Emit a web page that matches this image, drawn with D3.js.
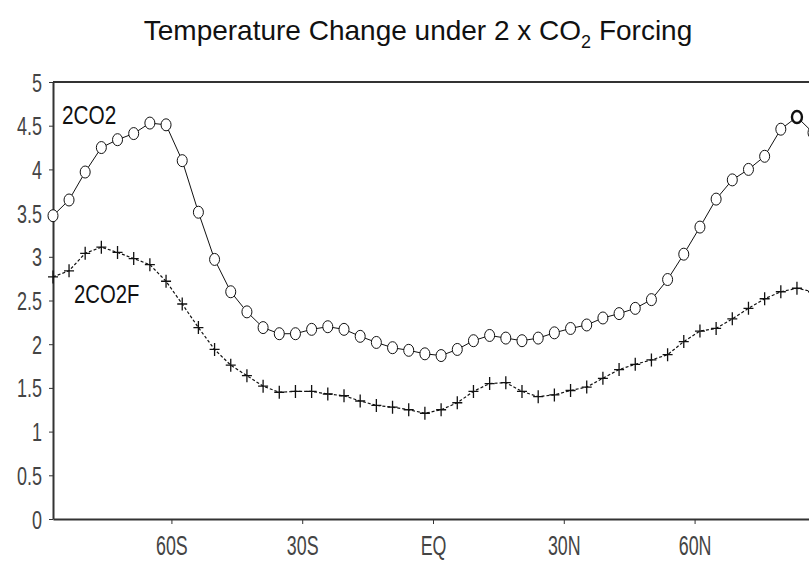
<!DOCTYPE html>
<html>
<head>
<meta charset="utf-8">
<script src="https://cdn.jsdelivr.net/npm/d3@7"></script>
<style>
  body { margin: 0; background: #fff; }
  svg { display: block; overflow: hidden; }
</style>
</head>
<body>
<svg id="chart"></svg>
<script>
// Gaussian latitudes of the model grid (deg)
const latitudes = [-87.16, -83.48, -79.78, -76.07, -72.36, -68.65, -64.94, -61.23,
  -57.52, -53.81, -50.10, -46.39, -42.68, -38.97, -35.26, -31.55,
  -27.84, -24.13, -20.41, -16.70, -12.99, -9.28, -5.57, -1.86,
  1.86, 5.57, 9.28, 12.99, 16.70, 20.41, 24.13, 27.84,
  31.55, 35.26, 38.97, 42.68, 46.39, 50.10, 53.81, 57.52,
  61.23, 64.94, 68.65, 72.36, 76.07, 79.78, 83.48, 87.16];

// 2CO2 run (circles)
const co2 = [3.47, 3.65, 3.97, 4.25, 4.34, 4.41, 4.53, 4.51,
  4.10, 3.51, 2.97, 2.60, 2.37, 2.19, 2.12, 2.12,
  2.17, 2.20, 2.17, 2.09, 2.02, 1.96, 1.93, 1.89,
  1.87, 1.94, 2.04, 2.10, 2.07, 2.04, 2.07, 2.13,
  2.18, 2.22, 2.30, 2.35, 2.41, 2.51, 2.74, 3.03,
  3.34, 3.66, 3.88, 4.00, 4.15, 4.46, 4.60, 4.42];

// 2CO2F run (crosses)
const co2f = [2.77, 2.84, 3.04, 3.11, 3.05, 2.98, 2.91, 2.72,
  2.46, 2.19, 1.94, 1.76, 1.64, 1.52, 1.45, 1.46,
  1.46, 1.43, 1.41, 1.35, 1.30, 1.28, 1.25, 1.21,
  1.25, 1.33, 1.46, 1.55, 1.56, 1.46, 1.40, 1.42,
  1.47, 1.51, 1.61, 1.71, 1.77, 1.82, 1.88, 2.03,
  2.15, 2.18, 2.29, 2.41, 2.52, 2.60, 2.64, 2.60];

const xTickValues = [-60, -30, 0, 30, 60];
const xTickLabels = ['60S', '30S', 'EQ', '30N', '60N'];
const yTickValues = [0, 0.5, 1, 1.5, 2, 2.5, 3, 3.5, 4, 4.5, 5];

class LineChart {

  constructor(_config, data) {
    this.config = {
      parentElement: _config.parentElement,
      containerWidth: 809,
      containerHeight: 563,
      // right margin is negative: the plot runs past the window edge, as in the original
      margin: { top: 82, right: -4, bottom: 44, left: 53 }
    };
    this.data = data;
    this.initVis();
  }

  initVis() {
    let vis = this;

    vis.width = vis.config.containerWidth - vis.config.margin.left - vis.config.margin.right;
    vis.height = vis.config.containerHeight - vis.config.margin.top - vis.config.margin.bottom;

    vis.xScale = d3.scaleLinear()
        .domain(d3.extent(latitudes))
        .range([0, vis.width]);

    vis.yScale = d3.scaleLinear()
        .domain([0, 5])
        .range([vis.height, 0]);

    vis.xAxis = d3.axisBottom(vis.xScale)
        .tickValues(xTickValues)
        .tickFormat((d, i) => xTickLabels[i])
        .tickSize(5)
        .tickSizeOuter(0);

    vis.yAxis = d3.axisLeft(vis.yScale)
        .tickValues(yTickValues)
        .tickFormat(d => String(d))
        .tickSize(4)
        .tickSizeOuter(0);

    vis.svg = d3.select(vis.config.parentElement)
        .attr('width', vis.config.containerWidth)
        .attr('height', vis.config.containerHeight);

    vis.chart = vis.svg.append('g')
        .attr('transform', `translate(${vis.config.margin.left},${vis.config.margin.top})`);

    vis.xAxisG = vis.chart.append('g')
        .attr('class', 'axis x-axis')
        .attr('transform', `translate(0, ${vis.height})`);

    vis.yAxisG = vis.chart.append('g')
        .attr('class', 'axis y-axis');

    // top frame line
    vis.chart.append('line')
        .attr('x1', 0)
        .attr('x2', vis.width)
        .attr('y1', 0)
        .attr('y2', 0)
        .attr('stroke', '#333')
        .attr('stroke-width', 2);

    // title with subscript
    const title = vis.svg.append('text')
        .attr('x', 418)
        .attr('y', 40)
        .attr('text-anchor', 'middle')
        .style('font-family', '"Liberation Sans", Arial, sans-serif')
        .style('font-size', '28px')
        .attr('fill', '#111');
    title.append('tspan').text('Temperature Change under 2 x CO');
    title.append('tspan').attr('dy', 8).style('font-size', '18px').text('2');
    title.append('tspan').attr('dy', -8).text('\u00a0Forcing');

    vis.updateVis();
  }

  updateVis() {
    let vis = this;
    vis.xValue = d => d.lat;
    vis.yValue = d => d.value;
    vis.renderVis();
  }

  renderVis() {
    let vis = this;

    const line = d3.line()
        .x(d => vis.xScale(vis.xValue(d)))
        .y(d => vis.yScale(vis.yValue(d)));

    // dashed 2CO2F curve with plus markers
    vis.chart.append('path')
        .datum(vis.data.co2f)
        .attr('d', line)
        .attr('fill', 'none')
        .attr('stroke', '#111')
        .attr('stroke-width', 1.2)
        .attr('stroke-dasharray', '3,2');

    vis.chart.selectAll('.cross')
        .data(vis.data.co2f)
        .join('path')
        .attr('class', 'cross')
        .attr('transform', d => `translate(${vis.xScale(vis.xValue(d))},${vis.yScale(vis.yValue(d))})`)
        .attr('d', 'M-5,0H5M0,-6.5V6.5')
        .attr('stroke', '#111')
        .attr('stroke-width', 1.3);

    // solid 2CO2 curve with open circles
    vis.chart.append('path')
        .datum(vis.data.co2)
        .attr('d', line)
        .attr('fill', 'none')
        .attr('stroke', '#111')
        .attr('stroke-width', 1);

    vis.chart.selectAll('.circ')
        .data(vis.data.co2)
        .join('ellipse')
        .attr('class', 'circ')
        .attr('cx', d => vis.xScale(vis.xValue(d)))
        .attr('cy', d => vis.yScale(vis.yValue(d)))
        .attr('rx', 5)
        .attr('ry', 6)
        .attr('fill', '#fff')
        .attr('stroke', '#111')
        .attr('stroke-width', (d, i) => i === 46 ? 2.4 : 1);

    // series labels
    vis.chart.append('text')
        .attr('transform', 'translate(9, 42) scale(0.8, 1)')
        .style('font-family', '"Liberation Sans", Arial, sans-serif')
        .style('font-size', '26px')
        .attr('fill', '#111')
        .text('2CO2');

    vis.chart.append('text')
        .attr('transform', 'translate(21, 221) scale(0.78, 1)')
        .style('font-family', '"Liberation Sans", Arial, sans-serif')
        .style('font-size', '26px')
        .attr('fill', '#111')
        .text('2CO2F');

    vis.xAxisG.call(vis.xAxis);
    vis.yAxisG.call(vis.yAxis);

    vis.chart.selectAll('.axis .domain, .axis .tick line')
        .attr('stroke', '#333')
        .attr('stroke-width', 2);
    vis.chart.selectAll('.axis .tick line')
        .attr('stroke-width', 1);

    vis.xAxisG.selectAll('text')
        .attr('y', 36)
        .attr('dy', 0)
        .attr('transform', 'scale(0.66, 1)')
        .style('font-family', '"Liberation Sans", Arial, sans-serif')
        .style('font-size', '27px')
        .attr('fill', '#444');

    vis.yAxisG.selectAll('text')
        .attr('x', -11 / 0.72)
        .attr('dy', '0.36em')
        .attr('transform', 'scale(0.72, 1)')
        .style('font-family', '"Liberation Sans", Arial, sans-serif')
        .style('font-size', '25px')
        .attr('fill', '#444');
  }
}

const toPoints = values => values.map((v, i) => ({ lat: latitudes[i], value: v }));

new LineChart({ parentElement: '#chart' }, { co2: toPoints(co2), co2f: toPoints(co2f) });
</script>
</body>
</html>
